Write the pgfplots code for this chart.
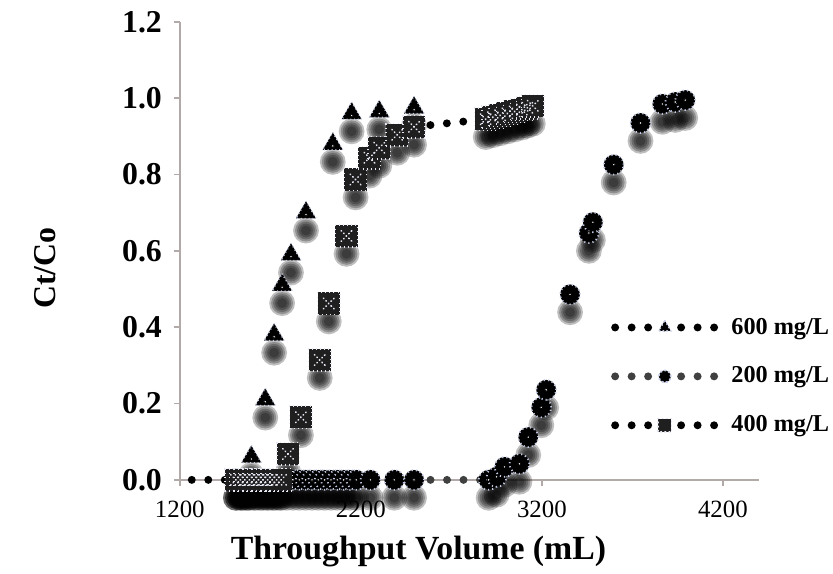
\documentclass[border=0pt]{standalone}
\usepackage{fontspec}
\setmainfont{Liberation Serif}
\usepackage{pgfplots}
\usepackage{pgfplotstable}
\pgfplotsset{compat=1.18}

\definecolor{axisgray}{RGB}{178,170,168}
\definecolor{rimblue}{RGB}{195,202,228}
\definecolor{sqdot}{RGB}{228,230,242}
\definecolor{twogray}{RGB}{64,64,64}

% 600 mg/L
\pgfplotstableread{
x y
1510 0
1540 0
1570 0
1595 0.06
1672 0.21
1721 0.38
1765 0.51
1814 0.59
1897 0.70
2045 0.88
2149 0.96
2302 0.965
2494 0.975
}\tsix

% 200 mg/L
\pgfplotstableread{
x y
1510 0
1545 0
1580 0
1615 0
1650 0
1685 0
1720 0
1755 0
1790 0
1825 0
1860 0
1895 0
1930 0
1965 0
2000 0
2035 0
2070 0
2105 0
2140 0
2175 0
2253 0
2385 0
2494 0
2906 0
2950 0.008
2994 0.034
3076 0.042
3125 0.112
3197 0.19
3224 0.236
3356 0.486
3460 0.647
3482 0.675
3597 0.826
3745 0.935
3866 0.985
3937 0.99
3992 0.995
}\ttwo

% 400 mg/L
\pgfplotstableread{
x y
1510 0
1535 0
1560 0
1585 0
1610 0
1635 0
1660 0
1685 0
1710 0
1735 0
1760 0
1798 0.068
1869 0.164
1973 0.314
2023 0.462
2121 0.639
2171 0.787
2248 0.844
2302 0.870
2401 0.904
2494 0.925
2890 0.945
2930 0.95
2970 0.955
3010 0.96
3050 0.965
3090 0.97
3120 0.975
3150 0.98
}\tfour

\tikzset{
  dotline/.style={line width=4pt, line cap=round, dash pattern=on 0pt off 8.3pt},
}
\pgfplotsset{
  shad/.style={only marks, mark=*, forget plot, mark size=#1,
    mark options={fill=black, draw=black, fill opacity=0.25, draw opacity=0,
      yshift=-9pt}},
  sixstyle/.style={black, mark=triangle*, mark size=5.8pt,
    mark options={solid, fill=black, draw=rimblue, line width=0.7pt,
      dash pattern=on 0.5pt off 1.4pt}},
  twostyle/.style={twogray, mark=*, mark size=5pt,
    mark options={solid, fill=black, draw=rimblue, line width=0.9pt,
      dash pattern=on 0.6pt off 1.5pt}},
  fourstyle/.style={black, mark=square*, mark size=5.6pt,
    mark options={solid, fill=black!88, draw=sqdot, line width=0.7pt,
      dash pattern=on 0.5pt off 1.6pt}},
}

\begin{document}
\begin{tikzpicture}
\begin{axis}[
  scale only axis, width=291.5pt, height=230.5pt,
  xmin=1200, xmax=4400, ymin=0, ymax=1.2,
  axis lines=left,
  axis line style={draw=axisgray, line width=0.8pt, -},
  tick align=outside, major tick length=3pt,
  tick style={draw=axisgray, line width=0.8pt},
  xtick={1200,2200,3200,4200},
  ytick={0,0.2,0.4,0.6,0.8,1.0,1.2},
  /pgf/number format/assume math mode=true,
  /pgf/number format/1000 sep={},
  x tick label style={font=\fontsize{12.5}{13}\selectfont, yshift=-4pt},
  y tick label style={font=\bfseries\fontsize{16}{16}\selectfont, xshift=-2.5pt,
    /pgf/number format/fixed, /pgf/number format/fixed zerofill,
    /pgf/number format/precision=1},
  xlabel={Throughput Volume (mL)},
  xlabel style={font=\bfseries\fontsize{17}{17}\selectfont,
    at={(axis description cs:0.412,-0.157)}, anchor=center},
  ylabel={Ct/Co},
  ylabel style={font=\bfseries\fontsize{16}{16}\selectfont,
    at={(axis description cs:-0.233,0.462)}, anchor=center},
  clip=false,
  legend cell align=left,
  legend style={at={(axis description cs:0.744,0.226)}, anchor=west,
    inner xsep=0pt, draw=none, fill=none,
    font=\bfseries\fontsize{12.2}{13}\selectfont,
    row sep=11pt, /tikz/every odd column/.append style={column sep=4.5pt}},
  legend image code/.code={
    \draw[mark repeat=2, mark phase=2, #1, every mark/.append style={scale=0.6}]
      plot coordinates {(0pt,0pt) (25pt,0pt) (50pt,0pt)};},
]
\coordinate (sw) at (rel axis cs:0,0);

\addlegendimage{sixstyle, black, dotline}
\addlegendentry{600 mg/L}
\addlegendimage{twostyle, dotline}
\addlegendentry{200 mg/L}
\addlegendimage{fourstyle, dotline}
\addlegendentry{400 mg/L}

% shadows
\addplot[shad=6.5pt] table {\tsix};
\addplot[shad=5.5pt] table {\tsix};
\addplot[shad=4.5pt] table {\tsix};
\addplot[shad=3.5pt] table {\tsix};
\addplot[shad=2.5pt] table {\tsix};
\addplot[shad=6.5pt] table {\ttwo};
\addplot[shad=5.5pt] table {\ttwo};
\addplot[shad=4.5pt] table {\ttwo};
\addplot[shad=3.5pt] table {\ttwo};
\addplot[shad=2.5pt] table {\ttwo};
\addplot[shad=6.5pt] table {\tfour};
\addplot[shad=5.5pt] table {\tfour};
\addplot[shad=4.5pt] table {\tfour};
\addplot[shad=3.5pt] table {\tfour};
\addplot[shad=2.5pt] table {\tfour};

% visible dotted connecting segments
\addplot[black, dotline, forget plot] coordinates {(1266,0) (1510,0)};
\addplot[twogray, dotline, forget plot] coordinates {(2494,0) (2906,0)};
\addplot[black, dotline, forget plot] coordinates {(2494,0.925) (2890,0.945)};

% 600 mg/L
\addplot[sixstyle, only marks, forget plot] table {\tsix};
\addplot[only marks, forget plot, mark=*, mark size=0.8pt,
  mark options={fill=white, draw=none, yshift=-1pt}] table {\tsix};

% 200 mg/L
\addplot[twostyle, only marks, forget plot] table {\ttwo};
\addplot[only marks, forget plot, mark=*, mark size=0.8pt,
  mark options={fill=white, draw=none}] table {\ttwo};

% 400 mg/L
\addplot[fourstyle, only marks, forget plot] table {\tfour};
\addplot[only marks, forget plot, mark=x, mark size=3.8pt,
  mark options={draw=sqdot, line width=0.8pt, line cap=round,
    dash pattern=on 0.3pt off 1.5pt}] table {\tfour};
\end{axis}
\path (sw) ++(-90.5pt,-42pt) rectangle ++(416.5pt,283.5pt);
\end{tikzpicture}
\end{document}
